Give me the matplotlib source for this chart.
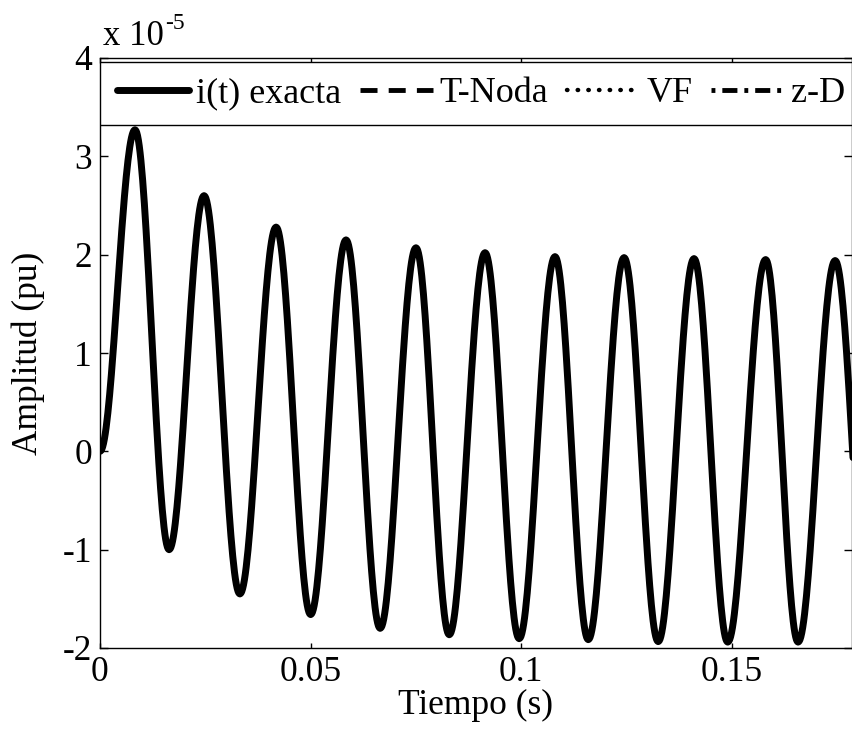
import numpy as np
import matplotlib
matplotlib.use('Agg')
import matplotlib.pyplot as plt
from matplotlib.patches import Rectangle

# Extrema (time in s, amplitude in units of 1e-5 pu)
t_ext = [0.0, 0.0083, 0.0164, 0.0247, 0.0332, 0.0418, 0.0500, 0.0584, 0.0665,
         0.0750, 0.0829, 0.0914, 0.0995, 0.1080, 0.1159, 0.1244, 0.1325,
         0.1410, 0.1490, 0.1580, 0.1657, 0.1745, 0.1828]
i_ext = [0.0, 3.27, -1.00, 2.60, -1.45, 2.28, -1.66, 2.15, -1.80,
         2.07, -1.865, 2.02, -1.905, 1.98, -1.915, 1.97, -1.935,
         1.96, -1.94, 1.95, -1.94, 1.94, -1.94]

labels = ['i(t) exacta', 'T-Noda', 'VF', 'z-D']
x_ticks = [0, 0.05, 0.1, 0.15]
x_ticklabels = ['0', '0.05', '0.1', '0.15']
y_ticks = [-2, -1, 0, 1, 2, 3, 4]


def smooth_through(tp, yp, n=40):
    # half-cosine between consecutive extrema so the wave stays round at the peaks
    ts, ys = [], []
    for k in range(len(tp) - 1):
        s = np.linspace(0, 1, n, endpoint=False)
        ts.append(tp[k] + (tp[k + 1] - tp[k]) * s)
        ys.append(yp[k] + (yp[k + 1] - yp[k]) * (1 - np.cos(np.pi * s)) / 2)
    ts.append([tp[-1]])
    ys.append([yp[-1]])
    return np.concatenate(ts), np.concatenate(ys)


t, i_t = smooth_through(t_ext, i_ext)

plt.rcParams['font.family'] = ['Liberation Serif', 'DejaVu Serif']
plt.rcParams['axes.unicode_minus'] = False

fig = plt.figure(figsize=(8.53, 7.33), dpi=100)
ax = fig.add_axes([100 / 853, 85 / 733, 752 / 853, 590 / 733])

# the three approximations overlap the exact solution, drawn thinner underneath
ax.plot(t, i_t, color='black', lw=5, solid_capstyle='round', label=labels[0], zorder=2)
ax.plot(t, i_t, color='black', lw=3.5, ls=(0, (3.5, 2.3)), label=labels[1], zorder=1)
ax.plot(t, i_t, color='black', lw=3.2, ls=(0, (0.1, 2.3)), dash_capstyle='round',
        label=labels[2], zorder=1)
ax.plot(t, i_t, color='black', lw=3.5, ls=(0, (0.8, 1.43, 3.1, 1.43)), label=labels[3], zorder=1)

ax.set_xlim(0, 0.1785)
ax.set_ylim(-2, 4)
ax.set_xticks(x_ticks)
ax.set_xticklabels(x_ticklabels)
ax.set_yticks(y_ticks)
ax.tick_params(axis='both', direction='in', top=True, right=True, labelsize=25.5, width=1)
ax.tick_params(axis='x', length=3.6, pad=6)
ax.tick_params(axis='y', length=5.8, pad=5.8)
for sp in ax.spines.values():
    sp.set_linewidth(1)

ax.set_xlabel('Tiempo (s)', fontsize=25.5, labelpad=0)
ax.set_ylabel('Amplitud (pu)', fontsize=25.5)
ax.yaxis.set_label_coords(-0.073, 0.5)

# MATLAB style multiplier above the y axis
mult = ax.text(0.004, 1.022, 'x 10', transform=ax.transAxes, fontsize=25,
               ha='left', va='baseline')
ax.annotate('-5', xy=(1, 0), xycoords=mult, xytext=(1, 17.5), textcoords='offset points',
            fontsize=17, ha='left', va='baseline')

# legend box across the top of the axes
y0, h = 0.8864, 0.1068
ax.add_patch(Rectangle((0, y0), 1.0, h, transform=ax.transAxes, facecolor='white',
                       edgecolor='black', lw=1, zorder=4))
ax.legend(loc='center', bbox_to_anchor=(0.0226, y0, 0.968, h), mode='expand', ncol=4,
          frameon=False, fontsize=26, borderpad=0, borderaxespad=0,
          handlelength=2.0, handletextpad=0.2)

fig.savefig('out.png', dpi=100)
